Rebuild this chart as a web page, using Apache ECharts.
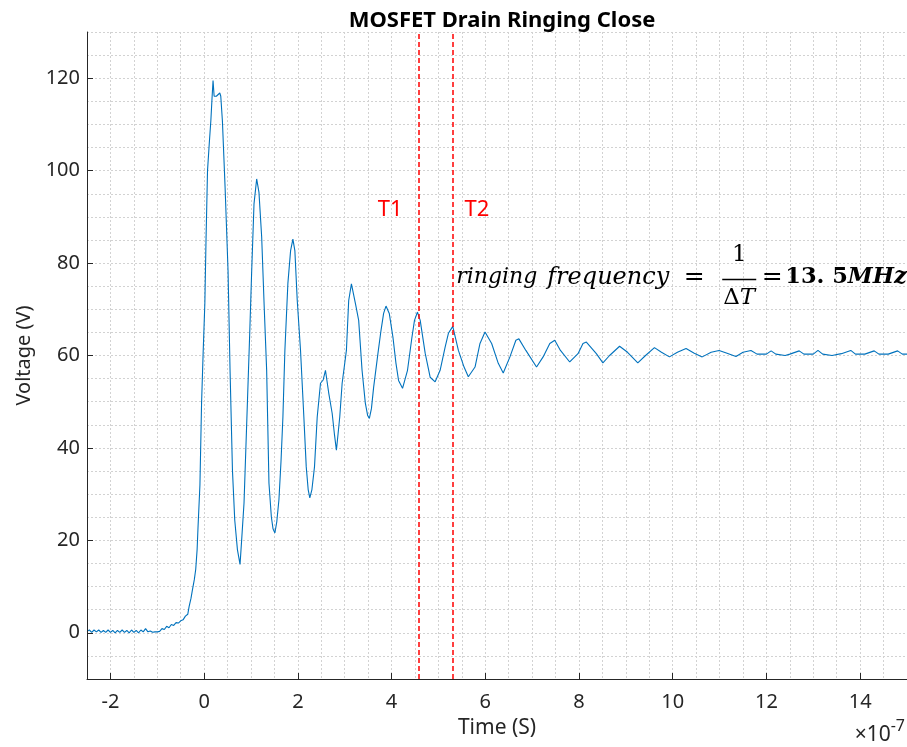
<!DOCTYPE html>
<html>
<head>
<meta charset="utf-8">
<script src="https://cdn.jsdelivr.net/npm/echarts@6/dist/echarts.min.js"></script>
<style>html,body{margin:0;padding:0;background:#fff}#chart{width:907px;height:747px}</style>
</head>
<body>
<div id="chart"></div>
<script>
// Time in units of 1e-7 s
const timeValues = [
-2.5,-2.45,-2.4,-2.35,-2.3,-2.25,-2.2,-2.15,-2.1,-2.05,-2.0,-1.95,-1.9,-1.85,-1.8,-1.75,-1.7,-1.65,-1.6,-1.55,-1.5,-1.45,-1.4,-1.35,-1.3,-1.25,-1.2,-1.15,-1.1,-1.05,-1.0,
-0.95,-0.9,-0.85,-0.8,-0.75,-0.7,-0.65,-0.6,-0.55,-0.5,-0.45,-0.4,-0.35,-0.32,-0.28,-0.25,-0.21,-0.18,-0.15,-0.13,-0.09,-0.055,-0.02,0.015,0.04,0.072,0.11,0.143,0.17,0.19,
0.213,0.26,0.30,0.334,0.355,0.39,0.447,0.51,0.553,0.604,0.653,0.71,0.766,0.80,0.851,0.923,0.97,1.015,1.064,1.121,1.17,1.228,1.28,1.334,1.383,1.434,1.47,1.51,1.55,1.596,1.64,
1.681,1.723,1.787,1.845,1.894,1.936,1.987,2.057,2.128,2.179,2.22,2.255,2.30,2.355,2.413,2.483,2.54,2.589,2.66,2.732,2.78,2.823,2.894,2.945,3.036,3.085,3.143,3.228,3.298,
3.37,3.44,3.49,3.526,3.57,3.617,3.71,3.774,3.83,3.881,3.951,4.03,4.094,4.149,4.234,4.34,4.434,4.489,4.553,4.611,4.717,4.823,4.93,5.036,5.143,5.213,5.306,5.426,5.547,5.638,
5.781,5.887,5.994,6.136,6.277,6.383,6.526,6.653,6.717,6.866,7.094,7.234,7.377,7.483,7.604,7.802,7.979,8.085,8.157,8.37,8.51,8.653,8.866,9.036,9.255,9.42,9.61,9.76,9.93,
10.1,10.285,10.46,10.63,10.82,10.99,11.16,11.35,11.5,11.67,11.8,12.0,12.1,12.2,12.4,12.5,12.7,12.8,13.0,13.1,13.2,13.4,13.6,13.8,13.9,14.1,14.3,14.4,14.6,14.8,14.9,15.0
];
const voltageValues = [
0.3,0.6,0.1,0.6,0.2,0.6,0.1,0.5,0.1,0.6,0.1,0.5,0.0,0.5,0.1,0.6,0.1,0.5,0.0,0.6,0.1,0.5,0.0,0.6,0.2,0.9,0.2,0.4,0.1,0.2,0.2,
0.3,0.9,0.7,1.4,1.1,1.8,1.6,2.2,2.1,2.6,2.8,3.6,4.0,5.7,7.5,9.3,11.5,13.7,18,23,32,49.7,61,71.3,85,100.0,106,110.8,116,119.5,
116.1,116.1,116.1,116.8,116.1,110.7,96.4,78.4,56.8,35.2,24.4,18.0,14.8,20,28.1,49.7,64,78.4,92.8,98.2,95.3,85.6,71,56.8,32.4,25.1,22.5,21.6,24,28.8,37,
46.7,61.1,75.6,82.7,85.2,82.7,71.9,61.1,46.7,35.9,31,29.2,31,35.9,46.7,54.0,54.7,56.8,51.8,47.5,43,39.5,46.7,54.0,61.1,71.9,75.5,71.3,67.6,
56.8,49.7,47,46.4,48.5,53.1,60.5,65.4,69.1,70.7,69.1,63.9,58.3,54.6,52.9,56.8,63.9,67.6,69.4,67.6,60.5,55.3,54.3,56.8,61.8,64.8,66.3,61.1,57.5,55.4,
57.5,62.6,65.1,62.6,58.3,56.2,59.7,63.3,63.6,61.1,57.5,59.7,62.6,63.3,61.1,58.6,60.4,62.6,62.9,60.4,58.4,60.0,62.0,60.7,58.4,60.0,61.7,60.7,59.7,
60.7,61.5,60.5,59.7,60.7,61.1,60.5,59.8,60.7,61.1,60.3,60.3,61.0,60.3,60.0,60.3,61.0,60.3,60.3,61.1,60.3,60.0,60.4,61.1,60.3,60.3,61.0,60.3,60.3,61.0,60.3,60.3
];
const xTickValues = [-2, 0, 2, 4, 6, 8, 10, 12, 14];
const yTickValues = [0, 20, 40, 60, 80, 100, 120];
const cursorTimes = [4.57, 5.31];
const cursorNames = ['T1', 'T2'];
const cursorLabelVoltage = 91.5;

const seriesData = timeValues.map((t, i) => [t, voltageValues[i]]);
const chart = echarts.init(document.getElementById('chart'), null, {renderer: 'canvas'});
const FONT = 'Noto Sans';
const TXT = '#262626';
const gridLine = {show: true, lineStyle: {color: '#d2d2d2', width: 1, type: [2, 2]}};
const hiddenParts = {axisLine: {show: false}, axisTick: {show: false}, axisLabel: {show: false}};

chart.setOption({
  animation: false,
  backgroundColor: '#ffffff',
  title: {
    text: 'MOSFET Drain Ringing Close',
    left: 497, top: 5, textAlign: 'center',
    textStyle: {fontFamily: FONT, fontWeight: 'bold', fontSize: 22, color: '#000'}
  },
  grid: {left: 87, right: 0, top: 32, bottom: 68, containLabel: false},
  xAxis: [{
    type: 'value', min: -2.5, max: 15, interval: 0.5,
    name: 'Time (S)', nameLocation: 'middle', nameGap: 39,
    nameTextStyle: {fontFamily: FONT, fontSize: 21, color: TXT},
    axisLine: {show: true, onZero: false, lineStyle: {color: '#262626', width: 1}},
    axisTick: {show: true, inside: true, length: 6, customValues: xTickValues, lineStyle: {color: '#262626'}},
    axisLabel: {customValues: xTickValues, fontFamily: FONT, fontSize: 20, color: TXT, margin: 13},
    splitLine: {show: false}, z: 5
  }, Object.assign({
    type: 'value', min: -2.5, max: 15, interval: 0.5, position: 'bottom',
    splitLine: gridLine
  }, hiddenParts)],
  yAxis: [{
    type: 'value', min: -10, max: 130, interval: 5,
    name: 'Voltage (V)', nameLocation: 'middle', nameGap: 47, nameRotate: 90,
    nameTextStyle: {fontFamily: FONT, fontSize: 20, color: TXT},
    axisLine: {show: true, onZero: false, lineStyle: {color: '#262626', width: 1}},
    axisTick: {show: true, inside: true, length: 6, customValues: yTickValues, lineStyle: {color: '#262626'}},
    axisLabel: {customValues: yTickValues, fontFamily: FONT, fontSize: 20, color: TXT, margin: 7},
    splitLine: {show: false}, z: 5
  }, Object.assign({
    type: 'value', min: -10, max: 130, interval: 5, position: 'left',
    splitLine: gridLine
  }, hiddenParts)],
  series: [{
    type: 'line', data: seriesData, showSymbol: false, symbol: 'none',
    xAxisIndex: 0, yAxisIndex: 0,
    lineStyle: {color: '#0072BD', width: 1.1},
    markLine: {
      silent: true, symbol: ['none', 'none'], label: {show: false},
      lineStyle: {color: '#ff0000', type: [5, 3], width: 1.5},
      data: cursorTimes.map(t => ({xAxis: t}))
    }
  }]
});

// annotations placed relative to data anchors
const p1 = chart.convertToPixel({gridIndex: 0}, [cursorTimes[0], cursorLabelVoltage]);
const p2 = chart.convertToPixel({gridIndex: 0}, [cursorTimes[1], cursorLabelVoltage]);
const f = chart.convertToPixel({gridIndex: 0}, [5.38, 76.9]);
const serif = 'DejaVu Serif';
chart.setOption({
  graphic: [
    {type: 'text', x: p1[0] - 28, y: p1[1], style: {text: cursorNames[0], fill: '#ff0000', font: '22px "Noto Sans"', textAlign: 'center', textVerticalAlign: 'middle'}},
    {type: 'text', x: p2[0] + 24, y: p2[1], style: {text: cursorNames[1], fill: '#ff0000', font: '22px "Noto Sans"', textAlign: 'center', textVerticalAlign: 'middle'}},
    {type: 'text', x: f[0], y: f[1], style: {text: 'ringing', fill: '#000', font: 'italic 22px "' + serif + '"', textAlign: 'left', textVerticalAlign: 'middle'}},
    {type: 'text', x: f[0] + 91, y: f[1], style: {text: 'frequency', fill: '#000', font: 'italic 24px "' + serif + '"', textAlign: 'left', textVerticalAlign: 'middle'}},
    {type: 'text', x: f[0] + 238, y: f[1], style: {text: '=', fill: '#000', font: '25px "' + serif + '"', textAlign: 'center', textVerticalAlign: 'middle'}},
    {type: 'text', x: f[0] + 283, y: f[1] - 22, style: {text: '1', fill: '#000', font: '23px "' + serif + '"', textAlign: 'center', textVerticalAlign: 'middle'}},
    {type: 'line', shape: {x1: f[0] + 266, y1: f[1] + 2, x2: f[0] + 300, y2: f[1] + 2}, style: {stroke: '#000', lineWidth: 1.5}},
    {type: 'text', x: f[0] + 283, y: f[1] + 21, style: {text: '{u|Δ}{i|T}', textAlign: 'center', textVerticalAlign: 'middle', rich: {u: {fontFamily: serif, fontSize: 23, fill: '#000'}, i: {fontFamily: serif, fontStyle: 'italic', fontSize: 23, fill: '#000'}}}},
    {type: 'text', x: f[0] + 316, y: f[1], style: {text: '=', fill: '#000', font: '25px "' + serif + '"', textAlign: 'center', textVerticalAlign: 'middle'}},
    {type: 'text', x: f[0] + 329, y: f[1], style: {text: '{d|13. 5}{m|MHz}', textAlign: 'left', textVerticalAlign: 'middle', rich: {d: {fontFamily: serif, fontWeight: 'bold', fontSize: 22.5, fill: '#000'}, m: {fontFamily: serif, fontWeight: 'bold', fontStyle: 'italic', fontSize: 22.5, fill: '#000'}}}},
    {type: 'text', right: 2, bottom: 1, style: {text: '{a|×10}{b|-7}', rich: {a: {fontFamily: FONT, fontSize: 21, fill: TXT, verticalAlign: 'bottom'}, b: {fontFamily: FONT, fontSize: 16, fill: TXT, verticalAlign: 'top', padding: [0, 0, 12, 0]}}}}
  ]
});
</script>
</body>
</html>
